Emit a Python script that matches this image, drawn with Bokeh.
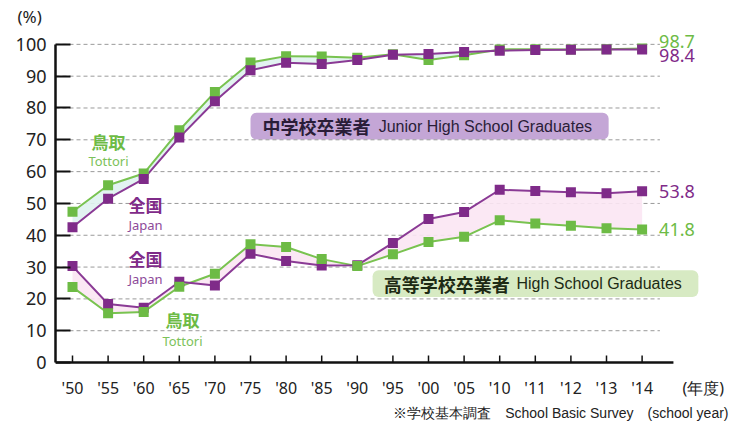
from bokeh.plotting import figure
from bokeh.models import Range1d, FixedTicker, Label, BoxAnnotation, Title
from bokeh.embed import file_html
from bokeh.resources import INLINE

# ---- data ----
years = ["'50", "'55", "'60", "'65", "'70", "'75", "'80", "'85", "'90", "'95",
         "'00", "'05", "'10", "'11", "'12", "'13", "'14"]
jhs_japan = [42.5, 51.5, 57.7, 70.7, 82.1, 91.9, 94.2, 93.8, 95.1, 96.7,
             97.0, 97.6, 98.0, 98.2, 98.3, 98.4, 98.4]
jhs_tottori = [47.4, 55.7, 59.4, 73.0, 85.0, 94.3, 96.3, 96.2, 95.8, 96.9,
               95.1, 96.6, 98.4, 98.5, 98.4, 98.5, 98.7]
hs_japan = [30.3, 18.4, 17.2, 25.4, 24.2, 34.2, 31.9, 30.5, 30.6, 37.6,
            45.1, 47.3, 54.3, 53.9, 53.5, 53.2, 53.8]
hs_tottori = [23.7, 15.5, 15.9, 23.8, 27.9, 37.2, 36.3, 32.5, 30.3, 34.0,
              37.9, 39.5, 44.7, 43.7, 43.0, 42.2, 41.8]
y_ticks = list(range(0, 101, 10))
year_unit_label = "(年度)"

idx = list(range(len(years)))

PURPLE = "#7f2b89"
PURPLE_LINE = "#8a3a95"
GREEN = "#6dbb45"
GREEN_LINE = "#79c350"
AXIS = "#111111"

X0, X1 = -0.4775, 18.82
Y0, Y1 = -0.9346, 104.984
p = figure(width=742, height=421, output_backend="svg", toolbar_location=None,
           x_range=Range1d(X0, X1), y_range=Range1d(Y0, Y1),
           min_border_left=55, min_border_right=0, min_border_top=28,
           min_border_bottom=53)
p.outline_line_color = None
p.background_fill_color = "white"
p.xgrid.visible = False
p.ygrid.visible = False

# title "(%)"
p.title.text = "(%)"
p.title.align = "left"
p.title.offset = -38
p.title.standoff = 2
p.title.text_font = "Noto Sans"
p.title.text_font_size = "17px"
p.title.text_font_style = "normal"
p.title.text_color = "#222222"

# grid lines (dashed)
grid_vals = [v for v in y_ticks if v > 0]
p.segment(x0=[X0] * len(grid_vals), x1=[16.5] * len(grid_vals), y0=grid_vals, y1=grid_vals,
          line_color="#9a9a9a", line_dash="4 3", line_width=1)

# y axis
p.yaxis.ticker = FixedTicker(ticks=y_ticks)
p.yaxis.bounds = (0, 100)
p.yaxis.axis_line_width = 2.5
p.yaxis.axis_line_color = AXIS
p.yaxis.major_tick_in = 15
p.yaxis.major_tick_out = 0
p.yaxis.major_tick_line_width = 2
p.yaxis.major_tick_line_color = AXIS
p.yaxis.minor_tick_line_color = None
p.yaxis.major_label_text_font = "Noto Sans"
p.yaxis.major_label_text_font_size = "18px"
p.yaxis.major_label_text_color = "#222222"
p.yaxis.major_label_standoff = 9

# x axis: labels from the axis, line and tick marks drawn at y=0
unit_pos = 17.72
p.xaxis.ticker = FixedTicker(ticks=idx + [unit_pos])
overrides = {i: years[i] for i in idx}
overrides[unit_pos] = year_unit_label
p.xaxis.major_label_overrides = overrides
p.xaxis.axis_line_color = None
p.xaxis.major_tick_line_color = None
p.xaxis.minor_tick_line_color = None
p.xaxis.major_label_text_font = "Noto Sans"
p.xaxis.major_label_text_font_size = "16px"
p.xaxis.major_label_text_color = "#222222"
p.xaxis.major_label_standoff = 5

p.segment(x0=[X0], x1=[16.88], y0=[0], y1=[0], line_color=AXIS, line_width=2.5)
p.segment(x0=idx, x1=idx, y0=[0] * len(idx), y1=[7 / 3.21] * len(idx),
          line_color=AXIS, line_width=1.5)

# fills between series
p.varea(x=idx, y1=jhs_japan, y2=jhs_tottori, fill_color="#dff2ef", fill_alpha=0.9)
p.varea(x=idx, y1=hs_japan, y2=hs_tottori, fill_color="#fbe6f3", fill_alpha=0.9)

# lines + markers
for vals, lc in [(jhs_tottori, GREEN_LINE), (jhs_japan, PURPLE_LINE),
                 (hs_tottori, GREEN_LINE), (hs_japan, PURPLE_LINE)]:
    p.line(idx, vals, line_color=lc, line_width=2)
for vals, mc in [(jhs_tottori, GREEN), (jhs_japan, PURPLE), (hs_japan, PURPLE), (hs_tottori, GREEN)]:
    p.scatter(idx, vals, marker="square", size=10, fill_color=mc, line_color=None)

JP = "Noto Sans CJK JP"


def lab(x, y, text, color, size, font=JP, style="normal", align="center", baseline="middle", **kw):
    p.add_layout(Label(x=x, y=y, text=text, text_color=color, text_font=font,
                       text_font_size=size, text_font_style=style, text_align=align,
                       text_baseline=baseline, **kw))


# series labels
lab(1.01, 69.5, "鳥取", GREEN, "17px", style="bold")
lab(1.01, 63.2, "Tottori", "#7cc25a", "13px", font="Noto Sans")
lab(2.05, 49.8, "全国", PURPLE, "17px", style="bold")
lab(2.05, 43.3, "Japan", "#8d4a99", "13px", font="Noto Sans")
lab(2.05, 32.7, "全国", PURPLE, "17px", style="bold")
lab(2.05, 26.2, "Japan", "#8d4a99", "13px", font="Noto Sans")
lab(3.09, 13.4, "鳥取", GREEN, "17px", style="bold")
lab(3.09, 6.9, "Tottori", "#7cc25a", "13px", font="Noto Sans")

# end value labels
last = len(years) - 1
lab(last, jhs_tottori[last], f"{jhs_tottori[last]:.1f}", GREEN, "18px", font="Noto Sans",
    align="left", baseline="bottom", x_offset=17)
lab(last, jhs_japan[last], f"{jhs_japan[last]:.1f}", PURPLE, "18px", font="Noto Sans",
    align="left", baseline="top", x_offset=17)
lab(last, hs_japan[last], f"{hs_japan[last]:.1f}", PURPLE, "18px", font="Noto Sans",
    align="left", x_offset=17)
lab(last, hs_tottori[last], f"{hs_tottori[last]:.1f}", GREEN, "18px", font="Noto Sans",
    align="left", x_offset=17)

# group boxes
p.add_layout(BoxAnnotation(left=5.0, right=15.06, top=78.5, bottom=70.1,
                           fill_color="#c4a6d6", fill_alpha=1, line_color=None,
                           border_radius=6, level="underlay"))
p.add_layout(BoxAnnotation(left=8.43, right=17.58, top=29.0, bottom=20.6,
                           fill_color="#d7eac3", fill_alpha=1, line_color=None,
                           border_radius=6, level="underlay"))
lab(5.34, 74.2, "中学校卒業者", "#2a1d38", "18px", style="bold", align="left")
lab(8.6, 74.2, "Junior High School Graduates", "#2a1d38", "16px", font="Liberation Sans", align="left")
lab(8.74, 24.8, "高等学校卒業者", "#1d2a14", "18px", style="bold", align="left")
lab(12.47, 24.8, "High School Graduates", "#1d2a14", "16px", font="Liberation Sans", align="left")

# footnote
foot = Title(text="※学校基本調査　School Basic Survey　(school year)", align="right", offset=14,
             text_font="Liberation Sans", text_font_size="14px", text_font_style="normal",
             text_color="#222222", standoff=2)
p.add_layout(foot, "below")

open("out.html", "w").write(file_html(p, INLINE))
